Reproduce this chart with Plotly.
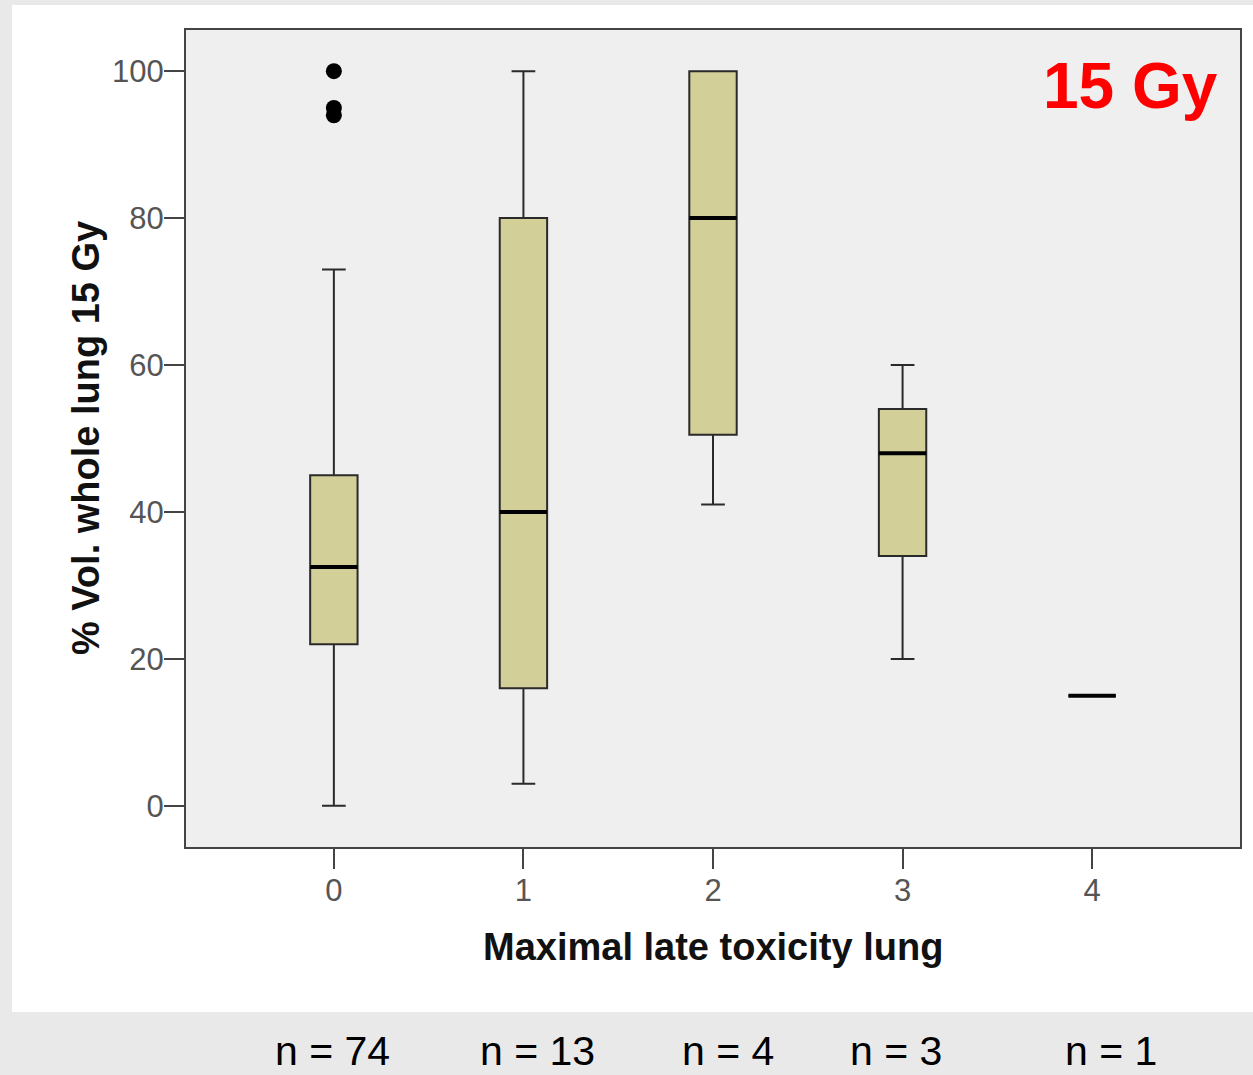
import plotly.graph_objects as go

# ---- data ----
categories = [0, 1, 2, 3, 4]
q1 = [22, 16, 50.5, 34, 15]
median = [32.5, 40, 80, 48, 15]
q3 = [45, 80, 100, 54, 15]
lower_whisker = [0, 3, 41, 20, 15]
upper_whisker = [73, 100, 100, 60, 15]
outlier_cat = [0, 0, 0]
outlier_val = [94, 95, 100]
n_counts = [74, 13, 4, 3, 1]
y_ticks = [0, 20, 40, 60, 80, 100]

FONT = "Liberation Sans, Arial, sans-serif"
BOXW = 0.25
GRAY = "#e9e9e9"

fig = go.Figure()

fig.add_trace(go.Box(
    x=categories, q1=q1, median=median, q3=q3,
    lowerfence=lower_whisker, upperfence=upper_whisker,
    width=BOXW, whiskerwidth=0.5,
    fillcolor="#d3cf98", line=dict(color="#2a2a2a", width=2),
    boxpoints=False, showlegend=False, hoverinfo="skip",
))

# thick medians
mx, my = [], []
for c, m in zip(categories, median):
    mx += [c - BOXW / 2, c + BOXW / 2, None]
    my += [m, m, None]
fig.add_trace(go.Scatter(x=mx, y=my, mode="lines",
                         line=dict(color="black", width=4),
                         showlegend=False, hoverinfo="skip"))

# outliers
fig.add_trace(go.Scatter(x=outlier_cat, y=outlier_val, mode="markers",
                         marker=dict(color="black", size=16),
                         showlegend=False, hoverinfo="skip"))

# layout geometry (pixels)
L, R, T, B = 186, 13, 30, 228
W, H = 1253, 1075
pw, ph = W - L - R, H - T - B

def px(x):
    return (x - L) / pw

def py(y):
    return (H - B - y) / ph

def band(x0, x1, y0, y1):
    return dict(type="rect", xref="paper", yref="paper",
                x0=px(x0), x1=px(x1), y0=py(y1), y1=py(y0),
                fillcolor=GRAY, line=dict(width=0), layer="below")

shapes = [
    band(-10, 12, -10, 1090),      # left strip
    band(-10, 1270, -10, 5),       # top strip
    band(-10, 1270, 1012, 1090),   # bottom strip
]

n_label_x = [332, 537, 728, 896, 1111]
annotations = [
    dict(text="<b>Maximal late toxicity lung</b>", xref="paper", yref="paper",
         x=px(713), y=py(947), xanchor="center", yanchor="middle", showarrow=False,
         font=dict(family=FONT, size=38, color="#111111")),
    dict(text="<b>% Vol. whole lung 15 Gy</b>", xref="paper", yref="paper",
         x=px(86), y=py(438), xanchor="center", yanchor="middle",
         showarrow=False, textangle=-90,
         font=dict(family=FONT, size=38, color="#111111")),
    dict(text="<b>15 Gy</b>", xref="paper", yref="paper",
         x=px(1130), y=py(86), xanchor="center", yanchor="middle", showarrow=False,
         font=dict(family=FONT, size=64, color="#ff0000")),
]
for n, xp in zip(n_counts, n_label_x):
    annotations.append(dict(text=f"n = {n}", xref="paper", yref="paper",
                            x=px(xp), y=py(1051), xanchor="center", yanchor="middle",
                            showarrow=False,
                            font=dict(family=FONT, size=41, color="black")))

fig.update_layout(
    width=W, height=H,
    margin=dict(l=L, r=R, t=T, b=B, pad=0),
    paper_bgcolor="white",
    plot_bgcolor="#efefef",
    shapes=shapes,
    annotations=annotations,
    xaxis=dict(range=[-0.78, 4.78], tickvals=categories,
               ticktext=[str(c) for c in categories],
               showgrid=False, zeroline=False,
               showline=True, linecolor="#444444", linewidth=2, mirror=True,
               ticks="outside", ticklen=20, tickwidth=2, tickcolor="#444444",
               ticklabelstandoff=-5,
               tickfont=dict(family=FONT, size=31, color="#555555")),
    yaxis=dict(range=[-5.6, 105.6], tickvals=y_ticks,
               showgrid=False, zeroline=False,
               showline=True, linecolor="#444444", linewidth=2, mirror=True,
               ticks="outside", ticklen=20, tickwidth=2, tickcolor="#444444",
               ticklabelstandoff=-6,
               tickfont=dict(family=FONT, size=31, color="#555555")),
)

fig.write_html("out.html",
               config={"displayModeBar": False},
               post_script="document.body.style.margin='0';"
                           "document.body.style.overflow='hidden';"
                           "document.body.style.background='" + GRAY + "';")
